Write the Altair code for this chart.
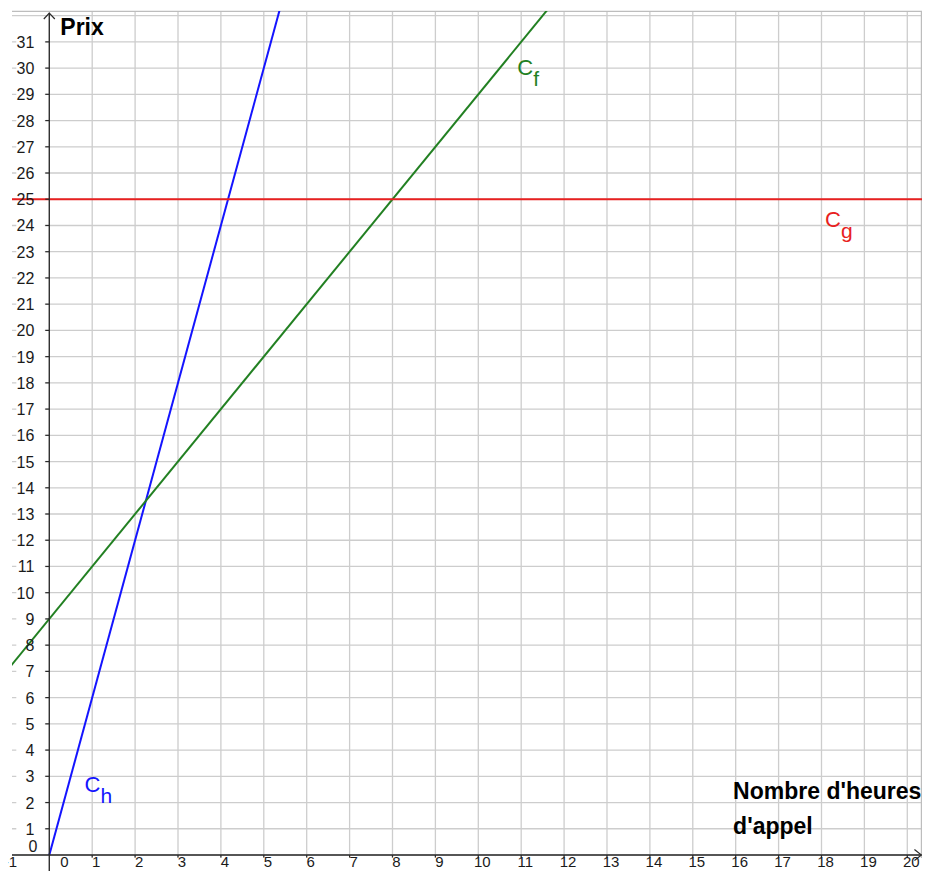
import altair as alt
import pandas as pd

FONT = "Liberation Sans"

# visible window (data units)
X_RANGE = [-0.8695, 20.343]
Y_RANGE = [-0.61, 32.177]

# grid
GRID_X = list(range(-1, 21))
GRID_Y = list(range(0, 33))

# tick labels
X_TICK_VALUES = [-1] + list(range(1, 21))
Y_TICK_VALUES = list(range(1, 32))
ORIGIN_LABEL = "0"

# curves (two points each)
CH_X = [0, 5.5]
CH_Y = [0, 33]
CF_X = [-1, 12]
CF_Y = [7, 33]
CG_X = [-1, 21]
CG_Y = [25, 25]

CURVE_MAIN = ["C", "C", "C"]
CURVE_SUBS = ["h", "f", "g"]
CURVE_LABEL_X = [0.82, 10.91, 18.08]
CURVE_LABEL_Y = [2.41, 29.74, 23.95]
CURVE_COLORS = ["#1414ff", "#228022", "#e82020"]

# titles
Y_TITLE = "Prix"
Y_TITLE_Y = 31.26
X_TITLE = ["Nombre d'heures", "d'appel"]
X_TITLE_X = 15.94
X_TITLE_Y = [2.135, 0.80]

# axis ends / frame
ARROW_X = 20.33
ARROW_Y = 32.1
FRAME_X = 20.33
FRAME_Y = 32.16

xs = alt.Scale(domain=X_RANGE, nice=False, zero=False)
ys = alt.Scale(domain=Y_RANGE, nice=False, zero=False)


def X(f):
    return alt.X(f, type="quantitative", scale=xs, axis=None)


def Y(f):
    return alt.Y(f, type="quantitative", scale=ys, axis=None)


GRID_COLOR = "#cdcdcd"
AXIS_COLOR = "#2a2a2a"

grid_v = alt.Chart(pd.DataFrame({"x": GRID_X})).mark_rule(
    color=GRID_COLOR, strokeWidth=1.3, clip=True).encode(x=X("x"))
grid_h = alt.Chart(pd.DataFrame({"y": GRID_Y})).mark_rule(
    color=GRID_COLOR, strokeWidth=1.3, clip=True).encode(y=Y("y"))

frame_h = alt.Chart(pd.DataFrame({"y": [FRAME_Y]})).mark_rule(
    color="#bdbdbd", strokeWidth=1.3).encode(y=Y("y"))
frame_v = alt.Chart(pd.DataFrame({"x": [FRAME_X]})).mark_rule(
    color="#bdbdbd", strokeWidth=1.3).encode(x=X("x"))

ylab_df = pd.DataFrame({"x": [0] * len(Y_TICK_VALUES), "y": Y_TICK_VALUES,
                        "t": [str(v) for v in Y_TICK_VALUES]})
xlab_df = pd.DataFrame({"x": X_TICK_VALUES, "y": [0] * len(X_TICK_VALUES),
                        "t": [str(v) for v in X_TICK_VALUES]})

bg_y = alt.Chart(ylab_df).mark_point(
    shape="M-33,-8H-4.5V8H-33Z", size=4, filled=True, color="white",
    opacity=1, strokeWidth=0).encode(x=X("x"), y=Y("y"))
bg_x = alt.Chart(xlab_df).mark_point(
    shape="M-8,3H16V30H-8Z", size=4, filled=True, color="white",
    opacity=1, strokeWidth=0).encode(x=X("x"), y=Y("y"))

y_axis = alt.Chart(pd.DataFrame({"x": [0], "y": [Y_RANGE[0]], "y2": [ARROW_Y]})).mark_rule(
    color=AXIS_COLOR, strokeWidth=1.3).encode(x=X("x"), y=Y("y"), y2=alt.Y2("y2"))
x_axis = alt.Chart(pd.DataFrame({"y": [0], "x": [X_RANGE[0]], "x2": [ARROW_X]})).mark_rule(
    color=AXIS_COLOR, strokeWidth=1.3).encode(y=Y("y"), x=X("x"), x2=alt.X2("x2"))

y_ticks = alt.Chart(ylab_df).mark_point(
    shape="M-4,0H0", size=4, filled=False, color=AXIS_COLOR, opacity=1,
    strokeWidth=1.2).encode(x=X("x"), y=Y("y"))
x_ticks = alt.Chart(xlab_df).mark_point(
    shape="M0,0V2.5", size=4, filled=False, color=AXIS_COLOR, opacity=1,
    strokeWidth=1.2).encode(x=X("x"), y=Y("y"))

arrow_x = alt.Chart(pd.DataFrame({"x": [ARROW_X], "y": [0]})).mark_point(
    shape="M-7,-5.5L0,0L-7,5.5", size=4, filled=False, color=AXIS_COLOR,
    opacity=1, strokeWidth=1.2).encode(x=X("x"), y=Y("y"))
arrow_y = alt.Chart(pd.DataFrame({"x": [0], "y": [ARROW_Y]})).mark_point(
    shape="M-5.5,6L0,0L5.5,6", size=4, filled=False, color=AXIS_COLOR,
    opacity=1, strokeWidth=1.2).encode(x=X("x"), y=Y("y"))


def curve(xv, yv, color):
    return alt.Chart(pd.DataFrame({"x": xv, "y": yv})).mark_line(
        color=color, strokeWidth=2, clip=True).encode(x=X("x"), y=Y("y"))


line_h = curve(CH_X, CH_Y, CURVE_COLORS[0])
line_f = curve(CF_X, CF_Y, CURVE_COLORS[1])
line_g = curve(CG_X, CG_Y, CURVE_COLORS[2])

ylabels = alt.Chart(ylab_df).mark_text(
    align="right", baseline="alphabetic", dx=-15, dy=6, fontSize=16,
    font=FONT, color="#1a1a1a").encode(x=X("x"), y=Y("y"), text="t:N")
xlabels = alt.Chart(xlab_df).mark_text(
    align="center", baseline="alphabetic", dx=4, dy=12.5, fontSize=15,
    font=FONT, color="#1a1a1a").encode(x=X("x"), y=Y("y"), text="t:N")

origin_df = pd.DataFrame({"x": [0], "y": [0], "t": [ORIGIN_LABEL]})
origin_y = alt.Chart(origin_df).mark_text(
    align="right", baseline="alphabetic", dx=-12, dy=-3, fontSize=16,
    font=FONT, color="#1a1a1a").encode(x=X("x"), y=Y("y"), text="t:N")
origin_x = alt.Chart(origin_df).mark_text(
    align="center", baseline="alphabetic", dx=15, dy=12.5, fontSize=15,
    font=FONT, color="#1a1a1a").encode(x=X("x"), y=Y("y"), text="t:N")

ytitle = alt.Chart(pd.DataFrame({"x": [0], "y": [Y_TITLE_Y], "t": [Y_TITLE]})).mark_text(
    align="left", baseline="alphabetic", dx=11, fontSize=23, fontWeight="bold",
    font=FONT, color="black").encode(x=X("x"), y=Y("y"), text="t:N")
xtitle = alt.Chart(pd.DataFrame({"x": [X_TITLE_X] * 2, "y": X_TITLE_Y, "t": X_TITLE})).mark_text(
    align="left", baseline="alphabetic", fontSize=23, fontWeight="bold",
    font=FONT, color="black").encode(x=X("x"), y=Y("y"), text="t:N")

cl_df = pd.DataFrame({"x": CURVE_LABEL_X, "y": CURVE_LABEL_Y, "m": CURVE_MAIN,
                      "s": CURVE_SUBS, "c": CURVE_COLORS})
cl_main = alt.Chart(cl_df).mark_text(
    align="left", baseline="alphabetic", fontSize=22, font=FONT).encode(
    x=X("x"), y=Y("y"), text="m:N", color=alt.Color("c:N", scale=None))
cl_sub = alt.Chart(cl_df).mark_text(
    align="left", baseline="alphabetic", fontSize=21, font=FONT, dx=16, dy=11).encode(
    x=X("x"), y=Y("y"), text="s:N", color=alt.Color("c:N", scale=None))

chart = alt.layer(
    grid_v, grid_h, frame_h, frame_v, bg_y, bg_x,
    line_h, line_f, line_g,
    y_axis, x_axis, y_ticks, x_ticks, arrow_x, arrow_y,
    ylabels, xlabels, origin_y, origin_x, ytitle, xtitle, cl_main, cl_sub,
).properties(
    width=910, height=860,
    padding={"left": 4, "top": 3, "right": 0, "bottom": 0},
    autosize="none", background="white",
).configure_view(stroke=None)

chart.save("out.html", embed_options={"renderer": "svg", "actions": False})
